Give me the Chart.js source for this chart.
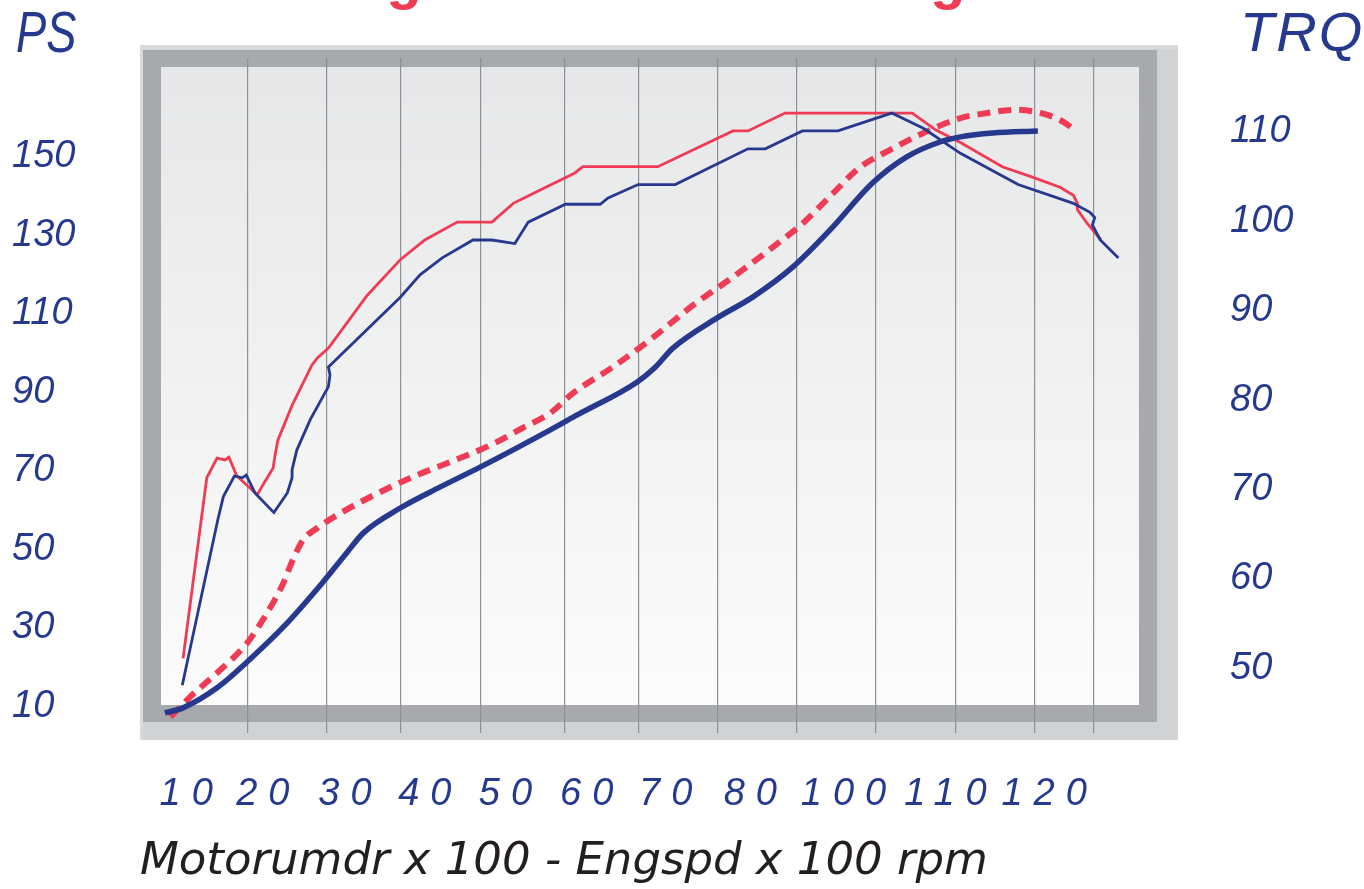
<!DOCTYPE html>
<html><head><meta charset="utf-8">
<script src="https://cdn.jsdelivr.net/npm/chart.js@4"></script>
<style>html,body{margin:0;padding:0;background:#fff;}canvas{display:block;}</style>
</head><body>
<canvas id="c" width="1364" height="889"></canvas>
<script>
// ---- tick labels / axis data ----
const xTickLabels = ['10','20','30','40','50','60','70','80','100','110','120'];
const xTickValues = [9.9,19.6,30,40.1,50.3,60.6,70.6,81.3,93.1,106,118.5];
const xGridValues = [17.7,27.7,37.1,47.2,57.8,67.1,77.2,87.2,97.2,107.3,117.3,124.7];
const psTicks = [10,30,50,70,90,110,130,150];
const trqTicks = [50,60,70,80,90,100,110];

// ---- series (x = rpm/100) ----
// thin red - torque A
const trqA_x = [9.5,12.5,13.8,14.8,15.3,16.3,18.9,19.6,20.9,21.1,21.5,23.3,25.8,26.5,27.9,32.8,37.0,40.1,44.2,48.6,51.3,54.7,59.1,60.1,69.6,79.1,81.0,85.7,101.8,104.8,107.9,113.2,117.1,120.5,122.2,122.7,122.7,123.9,125.7];
const trqA_y = [51.1,71.3,73.5,73.3,73.6,71.5,69.4,70.5,72.4,73.6,75.5,79.4,83.9,84.7,85.8,91.7,95.7,97.9,99.9,99.9,102.0,103.5,105.4,106.1,106.1,110.1,110.1,112.1,112.1,110.2,108.8,106.1,104.9,103.8,102.9,102.0,101.3,99.8,97.9];
// thin blue - torque B
const trqB_x = [9.4,13.9,14.6,16.0,17.0,17.5,18.6,21.0,22.7,23.3,23.3,23.9,25.6,27.9,28.1,27.9,37.0,39.5,42.3,46.2,48.6,51.5,53.2,57.9,62.3,63.3,67.1,71.8,81.0,83.2,87.9,92.4,99.2,103.2,107.9,115.2,122.2,124.3,124.9,124.6,125.6,127.9];
const trqB_y = [48.1,66.6,69.2,71.5,71.3,71.6,69.6,67.4,69.6,71.3,72.2,74.4,77.8,81.5,82.8,83.7,91.5,94.0,95.9,97.9,97.9,97.5,99.9,101.9,101.9,102.6,104.1,104.1,108.1,108.1,110.1,110.1,112.1,110.4,107.6,104.1,102.0,101.0,100.4,99.6,97.9,95.9];
// dashed red - power A
const psA_x = [7.9,10.4,13.8,17.6,19.6,21.1,22.2,23.4,24.7,26.5,29.0,33.2,38.2,43.3,48.4,52.5,56.0,58.9,63.9,68.6,74.1,79.1,84.2,88.0,91.8,95.2,99.0,103.2,107.9,110.4,115.1,118.0,120.5,122.4];
const psA_y = [7.3,12.4,18.5,26.1,32.0,37.1,41.4,47.3,52.4,55.4,58.7,63.3,68.1,72.2,76.5,80.9,84.7,89.8,96.4,103.3,112.2,119.3,127.0,133.1,140.7,147.3,151.7,156.0,159.8,160.8,161.9,161.1,159.3,156.8];
// thick blue - power B
const psB_x = [7.2,9.5,13.8,17.6,22.2,27.2,30.3,32.3,37.0,42.0,47.1,56.0,59.4,67.0,69.2,71.5,77.1,81.6,86.7,91.4,96.8,101.1,105.3,107.9,112.0,117.7];
const psB_y = [8.3,9.6,14.7,21.3,30.2,41.6,49.3,54.1,60.5,65.8,70.9,80.4,84.2,92.6,96.2,101.2,108.9,114.2,121.9,131.3,143.3,149.9,153.7,155.0,156.0,156.5];

const pts = (xs, ys) => xs.map((x, i) => ({x: x, y: ys[i]}));

const RED = '#ef3b53';
const BLUE = '#27388f';
const TXT = '#25398f';
const DIGIT_FONT = "'Liberation Sans', Arial, sans-serif";

const framePlugin = {
  id: 'frame',
  beforeDraw(chart) {
    const ctx = chart.ctx;
    ctx.save();
    ctx.fillStyle = '#ffffff';
    ctx.fillRect(0, 0, chart.width, chart.height);
    ctx.fillStyle = '#d9dadc';
    ctx.fillRect(140, 45, 1038, 695);
    ctx.fillStyle = '#d0d2d4';
    ctx.fillRect(143, 49, 1035, 691);
    ctx.fillStyle = '#a7a9ac';
    ctx.fillRect(143, 50, 1014, 672);
    const g = ctx.createLinearGradient(0, 67, 0, 705);
    g.addColorStop(0, '#e6e7e8');
    g.addColorStop(1, '#fcfcfc');
    ctx.fillStyle = g;
    ctx.fillRect(161, 67, 978, 638);
    ctx.restore();
  },
  afterDatasetsDraw(chart) {
    chart.ctx.letterSpacing = '11px';
  },
  afterDraw(chart) {
    const ctx = chart.ctx;
    ctx.letterSpacing = '0px';
    ctx.save();
    ctx.fillStyle = TXT;
    ctx.textBaseline = 'alphabetic';
    ctx.textAlign = 'left';
    ctx.font = "italic 58px 'Liberation Sans', sans-serif";
    ctx.save();
    ctx.translate(16, 52);
    ctx.scale(0.78, 1);
    ctx.fillText('PS', 0, 0);
    ctx.restore();
    ctx.font = "italic 56px 'Liberation Sans', sans-serif";
    ctx.letterSpacing = '2px';
    ctx.fillText('TRQ', 1240, 51);
    ctx.letterSpacing = '0px';
    ctx.fillStyle = RED;
    ctx.font = "bold 58px 'Liberation Sans', sans-serif";
    ctx.fillText('Vergleich Serie \u2013 Tuning', 296, -2);
    ctx.restore();
  }
};

const X_MIN = 4.05, X_MAX = 135.44;

new Chart(document.getElementById('c'), {
  type: 'line',
  data: {
    datasets: [
      {label: 'PS B', data: pts(psB_x, psB_y), yAxisID: 'yL', borderColor: BLUE, borderWidth: 5.5, pointRadius: 0, cubicInterpolationMode: 'monotone', fill: false},
      {label: 'TRQ B', data: pts(trqB_x, trqB_y), yAxisID: 'yR', borderColor: BLUE, borderWidth: 2.8, pointRadius: 0, tension: 0, fill: false},
      {label: 'TRQ A', data: pts(trqA_x, trqA_y), yAxisID: 'yR', borderColor: RED, borderWidth: 2.8, pointRadius: 0, tension: 0, fill: false},
      {label: 'PS A', data: pts(psA_x, psA_y), yAxisID: 'yL', borderColor: RED, borderWidth: 6, borderDash: [13, 8], pointRadius: 0, cubicInterpolationMode: 'monotone', fill: false}
    ]
  },
  options: {
    responsive: false,
    animation: false,
    layout: {padding: {left: 12, top: 58, right: 0, bottom: 0}},
    plugins: {legend: {display: false}, tooltip: {enabled: false}, title: {display: false}},
    scales: {
      x: {
        type: 'linear', position: 'bottom', weight: 0, min: X_MIN, max: X_MAX, bounds: 'data',
        grid: {display: false}, border: {display: false},
        ticks: {autoSkip: false, maxRotation: 0, minRotation: 0, padding: 31, labelOffset: 5.5, z: 1,
          color: TXT, font: {family: DIGIT_FONT, size: 38, style: 'italic'},
          callback: (v, i) => xTickLabels[i]},
        afterBuildTicks: s => { s.ticks = xTickValues.map(v => ({value: v})); },
        afterFit: s => { s.height = 92; s.paddingLeft = 0; s.paddingRight = 0; }
      },
      xg: {
        type: 'linear', position: 'bottom', weight: 1, min: X_MIN, max: X_MAX, bounds: 'data',
        grid: {display: true, color: '#8e9093', lineWidth: 1.2, drawTicks: false},
        border: {display: false},
        ticks: {display: false},
        title: {display: true, text: 'Motorumdr x 100 - Engspd x 100 rpm', align: 'start', color: '#231f20',
          font: {family: "'DejaVu Sans', sans-serif", size: 45, style: 'italic'}, padding: 0},
        afterBuildTicks: s => { s.ticks = xGridValues.map(v => ({value: v})); },
        afterFit: s => { s.height = 64; s.paddingLeft = 0; s.paddingRight = 0; }
      },
      yL: {
        type: 'linear', position: 'left', min: 3.2, max: 175.09, bounds: 'data',
        grid: {display: false}, border: {display: false},
        ticks: {crossAlign: 'far', padding: 0, color: TXT, font: {family: DIGIT_FONT, size: 38, style: 'italic'}},
        afterBuildTicks: s => { s.ticks = psTicks.map(v => ({value: v})); },
        afterFit: s => { s.width = 128; s.paddingTop = 0; s.paddingBottom = 0; }
      },
      yR: {
        type: 'linear', position: 'right', min: 42.75, max: 118.26, bounds: 'data',
        grid: {display: false}, border: {display: false},
        ticks: {padding: 44, color: TXT, font: {family: DIGIT_FONT, size: 38, style: 'italic'}},
        afterBuildTicks: s => { s.ticks = trqTicks.map(v => ({value: v})); },
        afterFit: s => { s.width = 186; s.paddingTop = 0; s.paddingBottom = 0; }
      }
    }
  },
  plugins: [framePlugin]
});
</script>
</body></html>
